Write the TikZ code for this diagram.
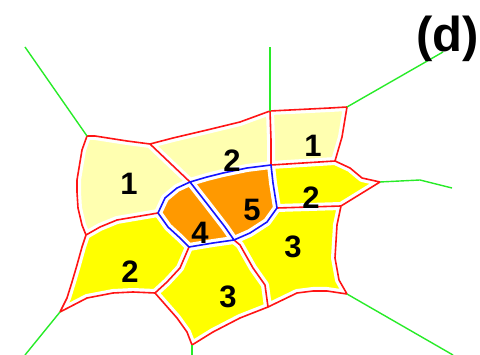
\documentclass[tikz,border=0pt]{standalone}
\usepackage{fontspec}
\setmainfont{Liberation Sans}
\usetikzlibrary{calc}
\definecolor{paleyel}{RGB}{255,255,176}
\definecolor{cellyel}{RGB}{255,255,0}
\definecolor{cellorg}{RGB}{255,153,0}
\definecolor{edgered}{RGB}{255,20,20}
\definecolor{edgeblue}{RGB}{20,20,255}
\definecolor{raygreen}{RGB}{40,235,40}
% red voronoi edges
\newcommand{\rednet}{%
  (A) -- (95,136) -- (127,141) -- (B) -- (173,138) -- (207,130) -- (240,122)
  -- (C) -- (330,108) -- (D) -- (342,137) -- (E) -- (350,168) -- (362,178)
  -- (G) -- (H) -- (337,225) -- (335,258) -- (339,280) -- (I) -- (327,291)
  -- (313,291) -- (297,293) -- (S) -- (240,318) -- (213,332) -- (J)
  -- (187,332) -- (177,318) -- (K) -- (133,292) -- (113,293) -- (87,298)
  -- (L) -- (67,298) -- (72,282) -- (77,265) -- (82,247) -- (M) -- (82,225)
  -- (78,208) -- (77,192) -- (77,180) -- (82,150) -- cycle
  (B) -- (P)
  (C) -- (271,140) -- (F) -- (E)
  (H) -- (Q)
  (S) -- (265,285) -- (253,268) -- (240,245) -- (R)
  (K) -- (167,282) -- (180,268) -- (O)
  (M) -- (100,227) -- (117,220) -- (N)}
% blue ring round cells 4 and 5
\newcommand{\bluenet}{%
  (P) -- (207,177) -- (223,173) -- (247,168) -- (F) -- (273,183) -- (Q)
  -- (267,222) -- (250,233) -- (R) -- (213,243) -- (O) -- (180,238)
  -- (168,227) -- (N) -- (165,198) -- (177,188) -- cycle
  (P) -- (208,205) -- (225,227) -- (R)}

\begin{document}
\begin{tikzpicture}[x=1pt, y=-1pt,
    gap/.style={draw=white, line width=8pt, line join=round, line cap=round},
    redline/.style={draw=edgered, line width=1.6pt, line join=round},
    blueline/.style={draw=edgeblue, line width=1.6pt, line join=round},
    ray/.style={draw=raygreen, line width=1.4pt},
    cell/.style={rounded corners=4pt},
    num/.style={inner sep=0pt, font=\fontsize{31}{31}\selectfont\bfseries}]
  \useasboundingbox (0,0) rectangle (480,355);
  % vertices
  \coordinate (A) at (87,136);
  \coordinate (B) at (150,144);
  \coordinate (C) at (270,111);
  \coordinate (D) at (347,107);
  \coordinate (E) at (335,161);
  \coordinate (F) at (271,165);
  \coordinate (G) at (380,182);
  \coordinate (H) at (341,206);
  \coordinate (Q) at (277,208);
  \coordinate (I) at (347,294);
  \coordinate (S) at (268,307);
  \coordinate (J) at (192,345);
  \coordinate (K) at (155,293);
  \coordinate (L) at (60,312);
  \coordinate (M) at (86,235);
  \coordinate (N) at (158,213);
  \coordinate (O) at (189,247);
  \coordinate (P) at (190,182);
  \coordinate (R) at (234,240);
  % cell fills
  \fill[paleyel, cell] (A) -- (95,136) -- (127,141) -- (B) -- (P) -- (177,188)
    -- (165,198) -- (N) -- (117,220) -- (100,227) -- (M) -- (82,225) -- (78,208)
    -- (77,192) -- (77,180) -- (82,150) -- cycle;
  \fill[paleyel, cell] (B) -- (173,138) -- (207,130) -- (240,122) -- (C)
    -- (271,140) -- (F) -- (247,168) -- (223,173) -- (207,177) -- (P) -- cycle;
  \fill[paleyel, cell] (C) -- (330,108) -- (D) -- (342,137) -- (E) -- (F)
    -- (271,140) -- cycle;
  \fill[cellyel, cell] (F) -- (E) -- (350,168) -- (362,178) -- (G) -- (H)
    -- (Q) -- (273,183) -- cycle;
  \fill[cellyel, cell] (M) -- (100,227) -- (117,220) -- (N) -- (168,227)
    -- (180,238) -- (O) -- (180,268) -- (167,282) -- (K) -- (133,292)
    -- (113,293) -- (87,298) -- (L) -- (67,298) -- (72,282) -- (77,265)
    -- (82,247) -- cycle;
  \fill[cellyel, cell] (O) -- (213,243) -- (R) -- (240,245) -- (253,268)
    -- (265,285) -- (S) -- (240,318) -- (213,332) -- (J) -- (187,332)
    -- (177,318) -- (K) -- (167,282) -- (180,268) -- cycle;
  \fill[cellyel, cell] (Q) -- (H) -- (337,225) -- (335,258) -- (339,280) -- (I)
    -- (327,291) -- (313,291) -- (297,293) -- (S) -- (265,285) -- (253,268)
    -- (240,245) -- (R) -- (250,233) -- (267,222) -- cycle;
  \fill[cellorg, cell] (P) -- (208,205) -- (225,227) -- (R) -- (213,243) -- (O)
    -- (180,238) -- (168,227) -- (N) -- (165,198) -- (177,188) -- cycle;
  \fill[cellorg, cell] (P) -- (207,177) -- (223,173) -- (247,168) -- (F)
    -- (273,183) -- (Q) -- (267,222) -- (250,233) -- (R) -- (225,227)
    -- (208,205) -- cycle;
  % white gaps, then the edges
  \path[gap] \rednet;
  \path[gap] \bluenet;
  \path[redline] \rednet;
  \path[blueline] \bluenet;
  % unbounded rays
  \draw[ray] (A) -- (25,47);
  \draw[ray] (C) -- (270,47);
  \draw[ray] (D) -- (443,52);
  \draw[ray] (G) -- (420,180) -- (452,188);
  \draw[ray] (I) -- (453,355);
  \draw[ray] (J) -- (192,355);
  \draw[ray] (L) -- (25,355);
  % cell labels
  \node[num] (n1a) at (129,184) {1};
  \node[num] (n2a) at (232,161) {2};
  \node[num] (n1b) at (313,146) {1};
  \node[num] (n2b) at (311,198) {2};
  \node[num] (n5)  at (252,210) {5};
  \node[num] (n4)  at (200,233) {4};
  \node[num] (n2c) at (130,272) {2};
  \node[num] (n3a) at (228,297) {3};
  \node[num] (n3b) at (293,247) {3};
  % panel tag
  \node[anchor=base west, inner sep=0pt,
    font=\fontsize{49}{49}\selectfont\bfseries] (tag) at (416,52) {(d)};
\end{tikzpicture}
\end{document}
